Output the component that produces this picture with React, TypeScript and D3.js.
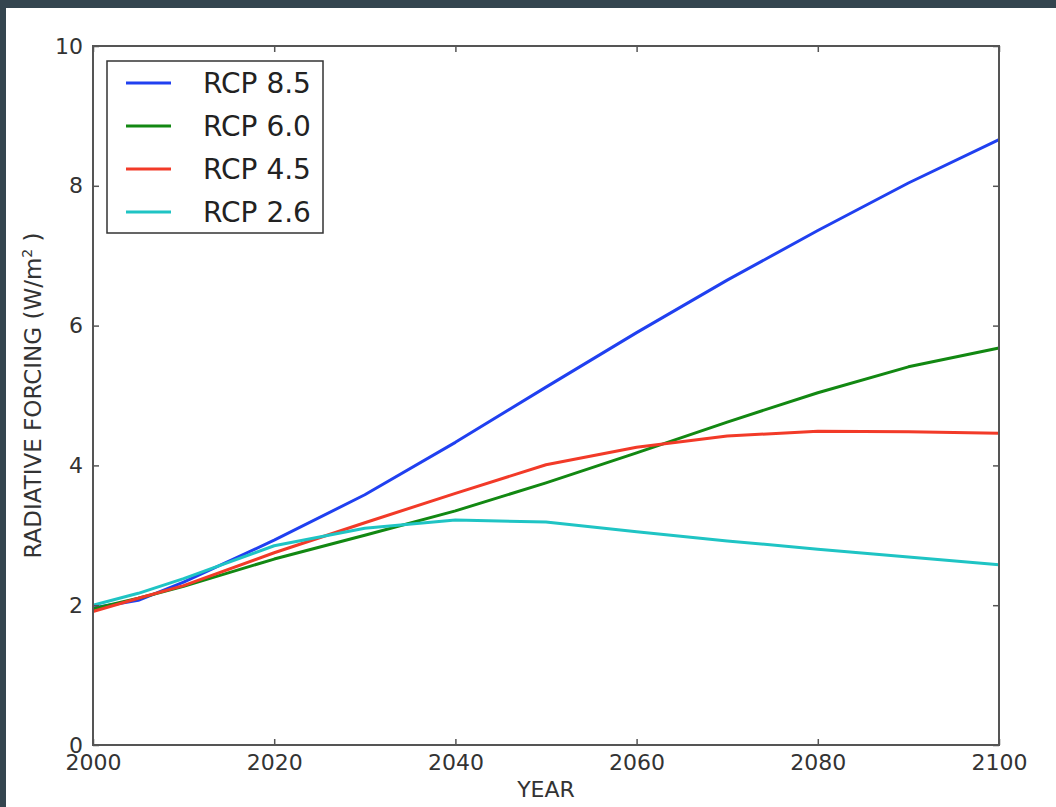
import { useEffect, useRef } from 'react'
import * as d3 from 'd3'

const YEARS = [2000, 2005, 2010, 2020, 2030, 2040, 2050, 2060, 2070, 2080, 2090, 2100]
const RCP85 = [1.96, 2.07, 2.33, 2.93, 3.58, 4.33, 5.12, 5.9, 6.65, 7.36, 8.04, 8.66]
const RCP60 = [1.95, 2.1, 2.27, 2.66, 3.0, 3.35, 3.75, 4.18, 4.62, 5.04, 5.41, 5.68]
const RCP45 = [1.91, 2.1, 2.28, 2.75, 3.18, 3.6, 4.01, 4.26, 4.42, 4.49, 4.48, 4.46]
const RCP26 = [2.0, 2.17, 2.38, 2.85, 3.1, 3.22, 3.19, 3.05, 2.92, 2.8, 2.69, 2.58]
const SERIES = [
  { name: 'RCP 8.5', values: RCP85, color: '#2040f0' },
  { name: 'RCP 6.0', values: RCP60, color: '#128812' },
  { name: 'RCP 4.5', values: RCP45, color: '#f23a28' },
  { name: 'RCP 2.6', values: RCP26, color: '#1fc4c4' },
]
const X_TICKS = [2000, 2020, 2040, 2060, 2080, 2100]
const Y_TICKS = [0, 2, 4, 6, 8, 10]

export default function App() {
  const ref = useRef<SVGSVGElement>(null)
  useEffect(() => {
    if (!ref.current) return
    const W = 1056, H = 807
    const m = { top: 46, right: 57, bottom: 62, left: 93 }
    const iW = W - m.left - m.right, iH = H - m.top - m.bottom
    const svg = d3.select(ref.current)
    svg.selectAll('*').remove()
    svg.append('rect').attr('width', W).attr('height', H).attr('fill', '#34454f')
    svg.append('rect').attr('x', 6).attr('y', 8).attr('width', W - 6).attr('height', H - 8).attr('fill', '#fff')

    const x = d3.scaleLinear().domain([2000, 2100]).range([0, iW])
    const y = d3.scaleLinear().domain([0, 10]).range([iH, 0])
    const g = svg.append('g').attr('transform', `translate(${m.left},${m.top})`)
    const font = '"DejaVu Sans", sans-serif'

    // lines
    const line = d3.line<number>().x((_, i) => x(YEARS[i])).y(d => y(d))
    SERIES.forEach(s => {
      g.append('path').datum(s.values).attr('d', line).attr('fill', 'none')
        .attr('stroke', s.color).attr('stroke-width', 3).attr('stroke-linejoin', 'round')
    })

    // axes with inward ticks on all sides
    const styleAxis = (sel: any) => {
      sel.select('.domain').remove()
      sel.selectAll('.tick line').attr('stroke', '#555').attr('stroke-width', 1.5)
      sel.selectAll('.tick text').attr('fill', '#333').style('font-family', font).style('font-size', '22px')
    }
    g.append('g').attr('transform', `translate(0,${iH})`)
      .call(d3.axisBottom(x).tickValues(X_TICKS).tickFormat(d3.format('d')).tickSizeInner(-6).tickPadding(9))
      .call(styleAxis)
    g.append('g').call(d3.axisTop(x).tickValues(X_TICKS).tickSizeInner(-6).tickFormat(() => '')).call(styleAxis)
    g.append('g')
      .call(d3.axisLeft(y).tickValues(Y_TICKS).tickFormat(d3.format('d')).tickSizeInner(-6).tickPadding(10))
      .call(styleAxis)
    g.append('g').attr('transform', `translate(${iW},0)`)
      .call(d3.axisRight(y).tickValues(Y_TICKS).tickSizeInner(-6).tickFormat(() => '')).call(styleAxis)

    g.append('rect').attr('width', iW).attr('height', iH).attr('fill', 'none')
      .attr('stroke', '#555').attr('stroke-width', 2)

    // axis labels
    svg.append('text').attr('x', m.left + iW / 2).attr('y', 797).attr('text-anchor', 'middle')
      .attr('fill', '#333').style('font-family', font).style('font-size', '22px').text('YEAR')
    const yl = svg.append('text').attr('transform', `translate(41,${m.top + iH / 2}) rotate(-90)`)
      .attr('text-anchor', 'middle').attr('fill', '#333').style('font-family', font).style('font-size', '23px')
    yl.append('tspan').text('RADIATIVE FORCING (W/m')
    yl.append('tspan').attr('dy', -9).style('font-size', '14px').text('2')
    yl.append('tspan').attr('dy', 9).text(' )')

    // legend
    const lg = svg.append('g')
    lg.append('rect').attr('x', 107).attr('y', 61).attr('width', 216).attr('height', 172)
      .attr('fill', '#fff').attr('stroke', '#333').attr('stroke-width', 1.5)
    SERIES.forEach((s, i) => {
      const cy = 83 + i * 43
      lg.append('line').attr('x1', 126).attr('x2', 171).attr('y1', cy).attr('y2', cy)
        .attr('stroke', s.color).attr('stroke-width', 3)
      lg.append('text').attr('x', 203).attr('y', cy).attr('dy', '0.36em').attr('fill', '#222')
        .style('font-family', font).style('font-size', '28px').text(s.name)
    })
  }, [])
  return (
    <div style={{ position: 'fixed', left: 0, top: 0 }}>
      <svg ref={ref} width={1056} height={807} style={{ display: 'block' }} />
    </div>
  )
}
